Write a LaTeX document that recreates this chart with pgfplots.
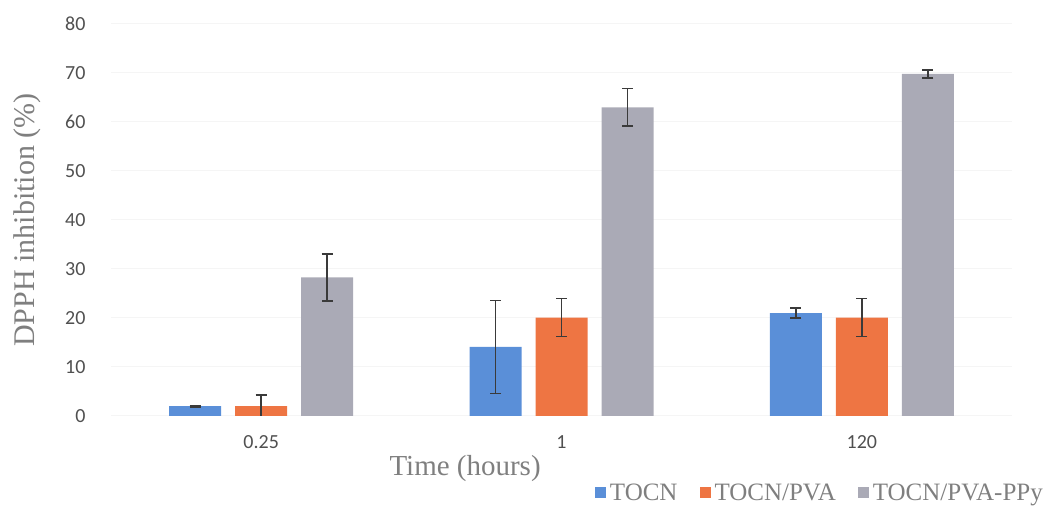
\documentclass[border=0pt]{standalone}
\usepackage{fontspec}
\setmainfont{Liberation Serif}
\newfontfamily\calib{Carlito}
\usepackage{pgfplots}
\pgfplotsset{compat=1.18}
\definecolor{cblue}{HTML}{5A8FD8}
\definecolor{corange}{HTML}{EE7543}
\definecolor{cgray}{HTML}{AAAAB6}
\definecolor{errc}{HTML}{3A3A3A}
\definecolor{labc}{HTML}{7F7F7F}
\definecolor{tickc}{HTML}{505050}
\begin{document}
\begin{tikzpicture}
\path[use as bounding box] (0,0) rectangle (1055pt,510pt);
\begin{axis}[
  at={(111pt,94pt)}, anchor=south west,
  scale only axis, width=901pt, height=392pt,
  ybar=14pt, bar width=52pt,
  xmin=-0.5, xmax=2.5, ymin=0, ymax=80,
  xtick={0,1,2}, xticklabels={0.25,1,120},
  ytick={0,10,...,80},
  axis line style={draw=none},
  major tick length=0pt,
  ymajorgrids, grid style={black!4, line width=1pt},
  /pgf/number format/assume math mode=true,
  ticklabel style={font=\calib\fontsize{20}{20}\selectfont, text=tickc},
  yticklabel style={xshift=-22pt},
  xticklabel style={yshift=-16pt},
  ylabel={DPPH inhibition (\%)},
  ylabel style={at={(axis description cs:-0.093,0.5)}, anchor=center, font=\fontsize{30}{30}\selectfont, text=labc},
  xlabel={Time (hours)},
  xlabel style={at={(axis description cs:0.393,-0.133)}, anchor=center, font=\fontsize{29}{29}\selectfont, text=labc},
  legend columns=3,
  legend style={at={(axis description cs:1.04,-0.196)}, anchor=east, draw=none, fill=none,
    font=\fontsize{25}{25}\selectfont, text=labc,
    /tikz/every odd column/.append style={column sep=2pt},
    /tikz/every even column/.append style={column sep=20pt}},
  legend image code/.code={\fill[#1] (0pt,-5.5pt) rectangle (11pt,5.5pt);},
  legend cell align=left,
  error bars/error bar style={draw=errc, line width=1.4pt},
  error bars/error mark options={rotate=90, mark size=5.5pt, line width=1.4pt, draw=errc},
]
\addplot[fill=cblue, draw=none, error bars/.cd, y dir=both, y explicit]
  coordinates {(0,2.0) +- (0,0.2) (1,14.1) +- (0,9.5) (2,21.0) +- (0,1.0)};
\addplot[fill=corange, draw=none, error bars/.cd, y dir=both, y explicit]
  coordinates {(0,2.0) +- (0,2.3) (1,20.1) +- (0,3.9) (2,20.1) +- (0,3.85)};
\addplot[fill=cgray, draw=none, error bars/.cd, y dir=both, y explicit]
  coordinates {(0,28.3) +- (0,4.8) (1,63.0) +- (0,3.8) (2,69.8) +- (0,0.8)};
\legend{TOCN, TOCN/PVA, TOCN/PVA-PPy}
\end{axis}
\end{tikzpicture}
\end{document}
